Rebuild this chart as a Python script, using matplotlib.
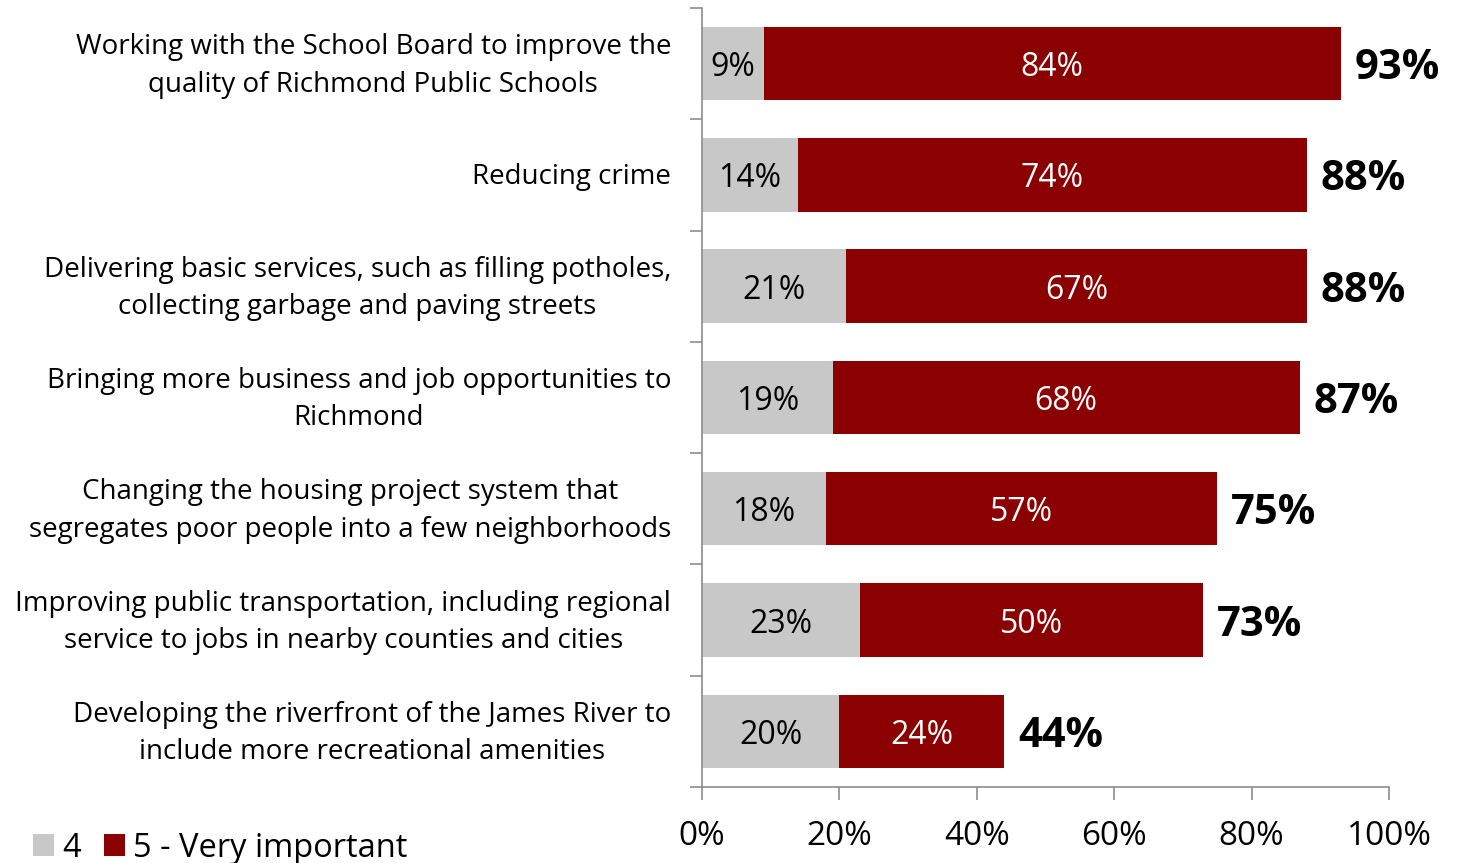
import matplotlib.pyplot as plt
import numpy as np

categories = [
    "Working with the School Board to improve the\nquality of Richmond Public Schools",
    "Reducing crime",
    "Delivering basic services, such as filling potholes,\ncollecting garbage and paving streets",
    "Bringing more business and job opportunities to\nRichmond",
    "Changing the housing project system that\nsegregates poor people into a few neighborhoods",
    "Improving public transportation, including regional\nservice to jobs in nearby counties and cities",
    "Developing the riverfront of the James River to\ninclude more recreational amenities",
]
four = [9, 14, 21, 19, 18, 23, 20]
five = [84, 74, 67, 68, 57, 50, 24]
totals = [93, 88, 88, 87, 75, 73, 44]
xticks = [0, 20, 40, 60, 80, 100]

GREY = "#C8C8C8"
RED = "#8B0000"
AXIS = "#8C8C8C"

plt.rcParams["font.family"] = ["Open Sans", "DejaVu Sans"]

fig = plt.figure(figsize=(14.57, 8.63), dpi=100)
ax = fig.add_axes([0.4818, 0.0881, 0.4715, 0.9026])

y = np.arange(len(categories))
h = 0.66
ax.barh(y, four, h, color=GREY, label="4")
ax.barh(y, five, h, left=four, color=RED, label="5 - Very important")

for i in range(len(categories)):
    ax.text(four[i] / 2, y[i], f"{four[i]}%", ha="center", va="center_baseline",
            fontsize=23, color="black")
    ax.text(four[i] + five[i] / 2, y[i], f"{five[i]}%", ha="center",
            va="center_baseline", fontsize=23, color="white")
    ax.text(four[i] + five[i] + 2, y[i], f"{totals[i]}%", ha="left",
            va="center_baseline", fontsize=30, fontweight="bold", color="black")

# category labels
for i, cat in enumerate(categories):
    ax.text(-0.045, y[i] + 0.02, cat, transform=ax.get_yaxis_transform(),
            ha="right", va="center", multialignment="center",
            fontsize=20, linespacing=1.45)

ax.set_xlim(0, 100)
ax.set_ylim(len(categories) - 0.5, -0.5)

ax.set_yticks(np.arange(-0.5, len(categories), 1))
ax.set_yticklabels([])
ax.tick_params(axis="y", length=9, direction="out", color=AXIS, width=1.2)

ax.set_xticks(xticks)
ax.set_xticklabels([f"{t}%" for t in xticks], fontsize=24)
ax.tick_params(axis="x", length=9, direction="out", color=AXIS, width=1.2, pad=15)

for s in ["top", "right"]:
    ax.spines[s].set_visible(False)
for s in ["left", "bottom"]:
    ax.spines[s].set_color(AXIS)
    ax.spines[s].set_linewidth(1.2)

fig.legend(loc="center left", bbox_to_anchor=(0.0024, 0.017), ncol=2, frameon=False,
           fontsize=23.5, handlelength=0.65, handleheight=0.65, handletextpad=0.25,
           columnspacing=0.7)

fig.savefig("out.png", dpi=100)
